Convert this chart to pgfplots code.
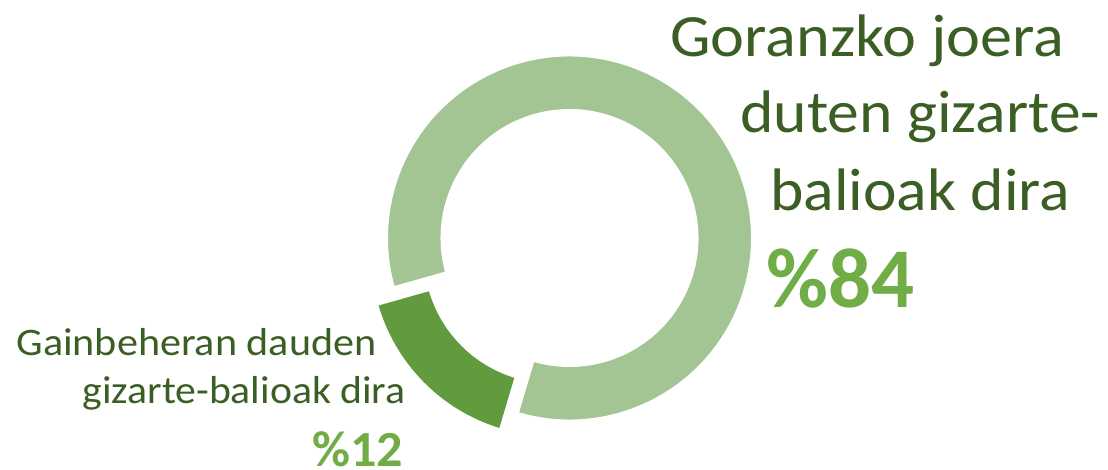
\documentclass[border=0pt]{standalone}
\usepackage{pgfplots}
\pgfplotsset{compat=1.18}
\usepackage{pgfplotstable}
\usepackage{fontspec}
\setmainfont{Carlito}
\definecolor{lightg}{HTML}{A3C594}
\definecolor{darkg}{HTML}{629B3E}
\definecolor{txtg}{HTML}{3B5E24}
\definecolor{pctg}{HTML}{70AD47}
\pgfplotstableread{
share
84
16
}\donutdata
\begin{document}
\begin{tikzpicture}
\pgfplotstablegetelem{0}{share}\of\donutdata \let\vA\pgfplotsretval
\pgfplotstablegetelem{1}{share}\of\donutdata \let\vB\pgfplotsretval
\pgfmathsetmacro{\bOne}{195.8}
\pgfmathsetmacro{\bTwo}{\bOne+3.6*\vB}
\pgfmathsetmacro{\lEnd}{\bTwo+3.6*\vA}
\pgfmathsetmacro{\bMid}{(\bOne+\bTwo)/2}
\begin{axis}[name=ax,width=554pt,height=234.5pt,scale only axis,hide axis,
  xmin=0,xmax=1108,ymin=0,ymax=469,clip=false]
\coordinate (C) at (axis cs:569.5,231);
\coordinate (D) at ([shift={(\bMid:11.8pt)}]C);
\path[fill=lightg,draw=white,line width=1.5pt]
  ([shift={(\bTwo:91.5pt)}]C) arc[start angle=\bTwo,end angle=\lEnd,radius=91.5pt]
  -- ([shift={(\lEnd:63.75pt)}]C) arc[start angle=\lEnd,end angle=\bTwo,radius=63.75pt] -- cycle;
\path[fill=darkg,draw=white,line width=1.5pt]
  ([shift={(\bOne:91.5pt)}]D) arc[start angle=\bOne,end angle=\bTwo,radius=91.5pt]
  -- ([shift={(\bTwo:63.75pt)}]D) arc[start angle=\bTwo,end angle=\bOne,radius=63.75pt] -- cycle;
% right labels
\node[anchor=base west,inner sep=0pt,xscale=1.07,text=txtg,font=\fontsize{30}{36}\selectfont] at (axis cs:670,412) {Goranzko joera};
\node[anchor=base west,inner sep=0pt,xscale=1.06,text=txtg,font=\fontsize{30}{36}\selectfont] at (axis cs:740,336) {duten gizarte-};
\node[anchor=base west,inner sep=0pt,xscale=1.06,text=txtg,font=\fontsize{30}{36}\selectfont] at (axis cs:770,259) {balioak dira};
\node[anchor=base west,inner sep=0pt,text=pctg,font=\fontsize{42.5}{50}\selectfont\bfseries] at (axis cs:766,162) {\%84};
% left labels
\node[anchor=base west,inner sep=0pt,xscale=1.08,text=txtg,font=\fontsize{19.5}{24}\selectfont] at (axis cs:16,114) {Gainbeheran dauden};
\node[anchor=base west,inner sep=0pt,xscale=1.07,text=txtg,font=\fontsize{19.5}{24}\selectfont] at (axis cs:82,66) {gizarte-balioak dira};
\node[anchor=base west,inner sep=0pt,xscale=1.03,text=pctg,font=\fontsize{25.3}{30}\selectfont\bfseries] at (axis cs:312,3) {\%12};
\end{axis}
\pgfresetboundingbox
\path[use as bounding box] (ax.south west) rectangle (ax.north east);
\end{tikzpicture}
\end{document}
